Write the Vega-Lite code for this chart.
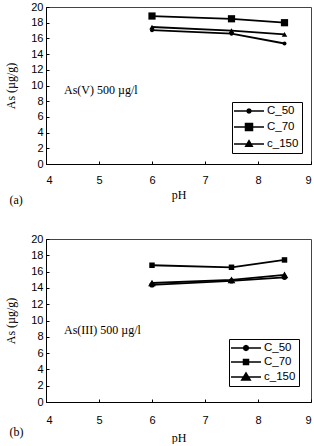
{
  "$schema": "https://vega.github.io/schema/vega-lite/v6.json",
  "padding": {"left": 4, "top": 0, "right": 0, "bottom": 0},
  "autosize": {"type": "pad"},
  "background": "white",
  "spacing": 25,
  "config": {
    "view": {"stroke": "#444", "strokeWidth": 1},
    "axis": {
      "grid": false,
      "domainColor": "#000",
      "tickColor": "#000",
      "tickSize": -3,
      "labelOverlap": false,
      "labelFont": "Liberation Sans",
      "labelFontSize": 11,
      "labelColor": "#000",
      "titleFont": "Liberation Serif",
      "titleFontSize": 12,
      "titleFontWeight": "normal",
      "titleColor": "#000"
    },
    "text": {"font": "Liberation Serif", "fontSize": 12, "color": "#000"}
  },
  "resolve": {
    "scale": {"x": "independent", "y": "independent", "color": "independent"},
    "legend": {"color": "independent"}
  },
  "vconcat": [
    {
      "width": 265,
      "height": 157,
      "data": {"values": [
        {"series": "C_50", "pH": 6, "As": 17.05},
        {"series": "C_50", "pH": 7.5, "As": 16.6},
        {"series": "C_50", "pH": 8.5, "As": 15.35},
        {"series": "C_70", "pH": 6, "As": 18.85},
        {"series": "C_70", "pH": 7.5, "As": 18.5},
        {"series": "C_70", "pH": 8.5, "As": 18.0},
        {"series": "c_150", "pH": 6, "As": 17.45},
        {"series": "c_150", "pH": 7.5, "As": 17.0},
        {"series": "c_150", "pH": 8.5, "As": 16.5}
      ]},
      "encoding": {
        "x": {"field": "pH", "type": "quantitative", "scale": {"domain": [4, 9], "nice": false}, "axis": {"values": [4, 5, 6, 7, 8, 9], "title": "pH", "labelPadding": 13, "titlePadding": 4, "labelOverlap": false}},
        "y": {"field": "As", "type": "quantitative", "scale": {"domain": [0, 20], "nice": false}, "axis": {"values": [0, 2, 4, 6, 8, 10, 12, 14, 16, 18, 20], "title": "As (µg/g)", "labelPadding": 6, "titlePadding": 13, "labelOverlap": false}}
      },
      "layer": [
        {
          "mark": {"type": "line", "strokeWidth": 1.8},
          "encoding": {
            "color": {
              "field": "series", "type": "nominal",
              "scale": {"domain": ["C_50", "C_70", "c_150"], "range": ["#000", "#000", "#000"]},
              "legend": {
                "orient": "none", "legendX": 186, "legendY": 95, "title": null,
                "strokeColor": "#000", "fillColor": "white", "padding": 3,
                "symbolSize": 100, "symbolOffset": 8, "labelOffset": 12, "rowPadding": 3,
                "labelFont": "Liberation Sans", "labelFontSize": 11.5, "labelColor": "#000",
                "encode": {"symbols": {"update": {
                  "shape": {"signal": "datum.value === 'C_50' ? 'M-3,0H3M-0.4,0L-0.28,-0.28L0,-0.4L0.28,-0.28L0.4,0L0.28,0.28L0,0.4L-0.28,0.28Z' : datum.value === 'C_70' ? 'M-3,0H3M-0.7,-0.7H0.7V0.7H-0.7Z' : 'M-3,0H3M0,-0.65L0.65,0.45H-0.65Z'"},
                  "fill": {"value": "#000"}, "stroke": {"value": "#000"}, "strokeWidth": {"value": 1.5}
                }}}
              }
            }
          }
        },
        {
          "transform": [{"filter": "datum.series === 'C_50'"}],
          "mark": {"type": "point", "shape": "circle", "size": 16, "filled": true, "color": "#000", "opacity": 1}
        },
        {
          "transform": [{"filter": "datum.series === 'C_70'"}],
          "mark": {"type": "point", "shape": "square", "size": 52, "filled": true, "color": "#000", "opacity": 1}
        },
        {
          "transform": [{"filter": "datum.series === 'c_150'"}],
          "mark": {"type": "point", "shape": "triangle-up", "size": 30, "filled": true, "color": "#000", "opacity": 1}
        },
        {
          "data": {"values": [
            {"label": "As(V) 500 µg/l", "pH": 4.34, "As": 9.43},
            {"label": "(a)", "pH": 3.31, "As": -4.59}
          ]},
          "mark": {"type": "text", "align": "left", "baseline": "middle"},
          "encoding": {"text": {"field": "label"}}
        }
      ]
    },
    {
      "width": 265,
      "height": 163,
      "data": {"values": [
        {"series": "C_50", "pH": 6, "As": 14.37},
        {"series": "C_50", "pH": 7.5, "As": 14.86},
        {"series": "C_50", "pH": 8.5, "As": 15.3},
        {"series": "C_70", "pH": 6, "As": 16.78},
        {"series": "C_70", "pH": 7.5, "As": 16.53},
        {"series": "C_70", "pH": 8.5, "As": 17.43},
        {"series": "c_150", "pH": 6, "As": 14.6},
        {"series": "c_150", "pH": 7.5, "As": 14.98},
        {"series": "c_150", "pH": 8.5, "As": 15.6}
      ]},
      "encoding": {
        "x": {"field": "pH", "type": "quantitative", "scale": {"domain": [4, 9], "nice": false}, "axis": {"values": [4, 5, 6, 7, 8, 9], "title": "pH", "labelPadding": 15, "titlePadding": 7, "labelOverlap": false}},
        "y": {"field": "As", "type": "quantitative", "scale": {"domain": [0, 20], "nice": false}, "axis": {"values": [0, 2, 4, 6, 8, 10, 12, 14, 16, 18, 20], "title": "As (µg/g)", "labelPadding": 6, "titlePadding": 13, "labelOverlap": false}}
      },
      "layer": [
        {
          "mark": {"type": "line", "strokeWidth": 1.8},
          "encoding": {
            "color": {
              "field": "series", "type": "nominal",
              "scale": {"domain": ["C_50", "C_70", "c_150"], "range": ["#000", "#000", "#000"]},
              "legend": {
                "orient": "none", "legendX": 183, "legendY": 100, "title": null,
                "strokeColor": "#000", "fillColor": "white", "padding": 3,
                "symbolSize": 100, "symbolOffset": 8, "labelOffset": 12, "rowPadding": 2,
                "labelFont": "Liberation Sans", "labelFontSize": 11.5, "labelColor": "#000",
                "encode": {"symbols": {"update": {
                  "shape": {"signal": "datum.value === 'C_50' ? 'M-3,0H3M-0.5,0L-0.35,-0.35L0,-0.5L0.35,-0.35L0.5,0L0.35,0.35L0,0.5L-0.35,0.35Z' : datum.value === 'C_70' ? 'M-3,0H3M-0.5,-0.5H0.5V0.5H-0.5Z' : 'M-3,0H3M0,-0.8L0.85,0.6H-0.85Z'"},
                  "fill": {"value": "#000"}, "stroke": {"value": "#000"}, "strokeWidth": {"value": 1.5}
                }}}
              }
            }
          }
        },
        {
          "transform": [{"filter": "datum.series === 'C_50'"}],
          "mark": {"type": "point", "shape": "circle", "size": 28, "filled": true, "color": "#000", "opacity": 1}
        },
        {
          "transform": [{"filter": "datum.series === 'C_70'"}],
          "mark": {"type": "point", "shape": "square", "size": 30, "filled": true, "color": "#000", "opacity": 1}
        },
        {
          "transform": [{"filter": "datum.series === 'c_150'"}],
          "mark": {"type": "point", "shape": "triangle-up", "size": 60, "filled": true, "color": "#000", "opacity": 1}
        },
        {
          "data": {"values": [
            {"label": "As(III) 500 µg/l", "pH": 4.34, "As": 8.86},
            {"label": "(b)", "pH": 3.31, "As": -3.67}
          ]},
          "mark": {"type": "text", "align": "left", "baseline": "middle"},
          "encoding": {"text": {"field": "label"}}
        }
      ]
    }
  ]
}
